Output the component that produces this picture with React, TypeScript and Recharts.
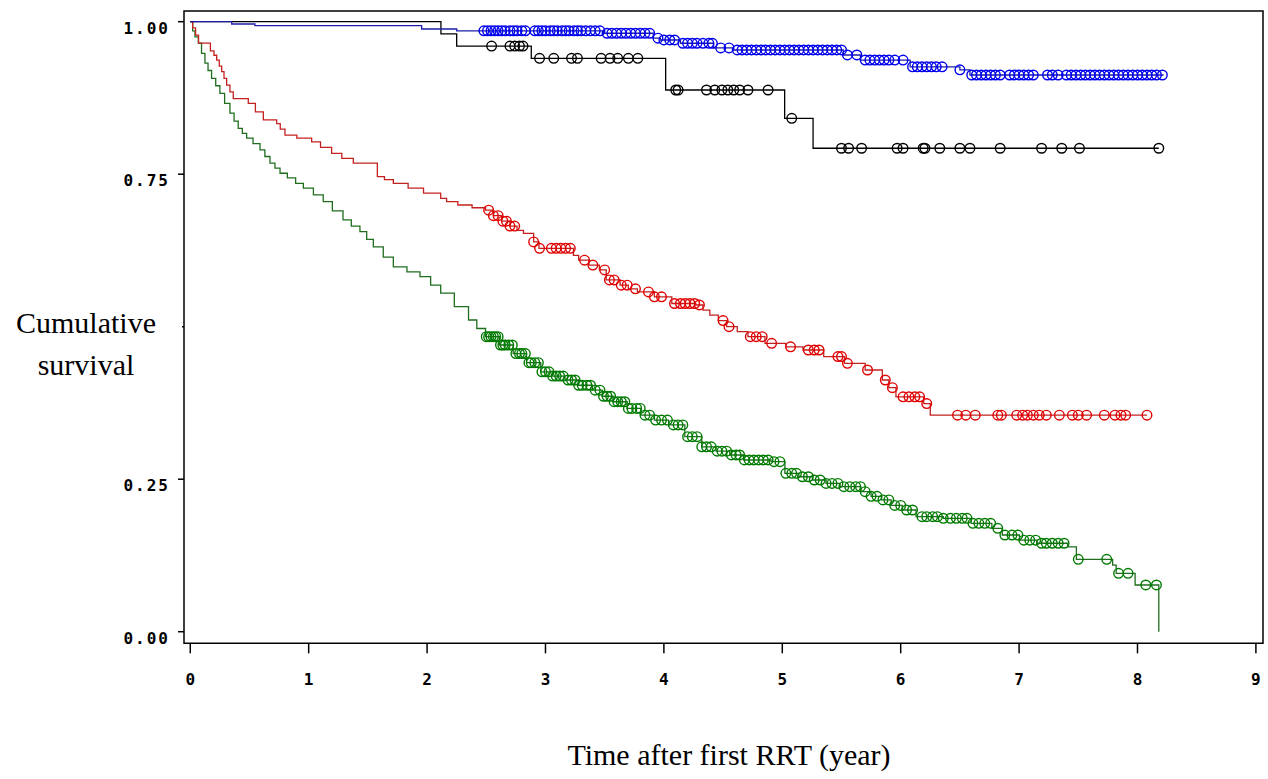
import React from "react";
import { ComposedChart, Line, Scatter, XAxis, YAxis, ReferenceArea } from "recharts";

const xTicks = [0, 1, 2, 3, 4, 5, 6, 7, 8, 9];
const yTicks = [0, 0.25, 0.5, 0.75, 1];
const yTickLabels = ["0.00", "0.25", "", "0.75", "1.00"];

// Kaplan-Meier steps: [time (year), cumulative survival]
const blueSteps: [number, number][] = [
  [0, 1], [0.35, 0.9962], [0.546, 0.9934], [1.954, 0.988], [2.25, 0.985],
  [3.49, 0.981], [3.91, 0.973], [3.97, 0.97], [4.14, 0.9646], [4.42, 0.957],
  [4.58, 0.9536], [5.515, 0.9454], [5.66, 0.937], [6.08, 0.926], [6.5, 0.921],
  [6.585, 0.9126], [8.22, 0.9126],
];

const blackSteps: [number, number][] = [
  [0, 1], [2.117, 0.98], [2.25, 0.96], [2.88, 0.94], [4.015, 0.888],
  [5.02, 0.8416], [5.26, 0.7925], [8.18, 0.7925],
];

const redSteps: [number, number][] = [
  [0, 1], [0.02, 0.99], [0.045, 0.978], [0.07, 0.965], [0.17, 0.952], [0.2, 0.945],
  [0.223, 0.937], [0.245, 0.927], [0.265, 0.918], [0.285, 0.907], [0.307, 0.896],
  [0.335, 0.885], [0.363, 0.874], [0.49, 0.866], [0.55, 0.852], [0.617, 0.839],
  [0.73, 0.833], [0.76, 0.824], [0.8, 0.814], [0.9, 0.809], [1.025, 0.803],
  [1.1, 0.794], [1.194, 0.784], [1.28, 0.776], [1.377, 0.768], [1.58, 0.746],
  [1.64, 0.741], [1.715, 0.735], [1.84, 0.727], [1.97, 0.719], [2.115, 0.7105],
  [2.165, 0.705], [2.26, 0.6995], [2.38, 0.695], [2.494, 0.691], [2.56, 0.682],
  [2.63, 0.673], [2.7, 0.665], [2.76, 0.658], [2.814, 0.653], [2.9, 0.639],
  [2.945, 0.6285], [3.236, 0.617], [3.28, 0.609], [3.367, 0.601], [3.455, 0.593],
  [3.513, 0.5766], [3.63, 0.568], [3.7, 0.562], [3.776, 0.557], [3.92, 0.549],
  [4.067, 0.538], [4.27, 0.5356], [4.33, 0.527], [4.388, 0.519], [4.46, 0.51],
  [4.53, 0.5], [4.62, 0.492], [4.71, 0.4836], [4.854, 0.4728], [5.03, 0.467],
  [5.175, 0.4618], [5.35, 0.451], [5.525, 0.44], [5.7, 0.429], [5.845, 0.4126],
  [5.9, 0.4], [5.96, 0.385], [6.195, 0.374], [6.25, 0.355], [8.08, 0.355],
];

const greenSteps: [number, number][] = [
  [0, 1], [0.02, 0.985], [0.04, 0.975], [0.068, 0.965], [0.095, 0.948], [0.124, 0.932],
  [0.15, 0.92], [0.18, 0.907], [0.215, 0.895], [0.25, 0.8826], [0.29, 0.866],
  [0.335, 0.85], [0.37, 0.837], [0.405, 0.825], [0.44, 0.817], [0.476, 0.809],
  [0.53, 0.8], [0.589, 0.79], [0.63, 0.779], [0.673, 0.768], [0.715, 0.76],
  [0.758, 0.7515], [0.82, 0.744], [0.89, 0.735], [0.955, 0.727], [1.04, 0.716],
  [1.123, 0.705], [1.2, 0.69], [1.29, 0.675], [1.36, 0.665], [1.433, 0.656],
  [1.49, 0.643], [1.546, 0.631], [1.63, 0.614], [1.715, 0.598], [1.83, 0.59],
  [1.94, 0.582], [2.03, 0.568], [2.115, 0.555], [2.23, 0.533], [2.35, 0.511],
  [2.42, 0.497], [2.494, 0.4836], [2.61, 0.47], [2.727, 0.456], [2.84, 0.441],
  [2.96, 0.426], [3.06, 0.419], [3.165, 0.4126], [3.28, 0.404], [3.397, 0.396],
  [3.48, 0.386], [3.57, 0.377], [3.69, 0.366], [3.805, 0.355], [3.92, 0.347],
  [4.04, 0.339], [4.177, 0.3197], [4.32, 0.303], [4.44, 0.296], [4.556, 0.2897],
  [4.672, 0.2815], [4.905, 0.2787], [5.022, 0.2597], [5.14, 0.254], [5.255, 0.2487],
  [5.37, 0.243], [5.488, 0.2377], [5.663, 0.2295], [5.75, 0.222], [5.838, 0.216],
  [5.92, 0.207], [6.013, 0.1995], [6.13, 0.1885], [6.36, 0.1859], [6.595, 0.1777],
  [6.77, 0.1695], [6.858, 0.1585], [7.003, 0.15], [7.15, 0.145], [7.41, 0.139],
  [7.484, 0.1187], [7.79, 0.109], [7.82, 0.0957], [7.98, 0.0766], [8.18, 0],
];

// censored observation times
const blueCensor = [
  2.48, 2.51, 2.54, 2.57, 2.6, 2.63, 2.66, 2.7, 2.73, 2.76, 2.8, 2.83, 2.91, 2.94,
  2.97, 3.0, 3.04, 3.07, 3.1, 3.14, 3.17, 3.2, 3.24, 3.27, 3.3, 3.34, 3.38, 3.42,
  3.46, 3.52, 3.56, 3.6, 3.64, 3.68, 3.72, 3.76, 3.8, 3.84, 3.88, 3.95, 4.0, 4.05,
  4.09, 4.16, 4.2, 4.24, 4.28, 4.33, 4.38, 4.41, 4.48, 4.55, 4.62, 4.66, 4.7, 4.74,
  4.78, 4.82, 4.86, 4.9, 4.94, 4.98, 5.02, 5.06, 5.1, 5.14, 5.18, 5.22, 5.26, 5.3,
  5.34, 5.38, 5.42, 5.46, 5.5, 5.55, 5.63, 5.7, 5.74, 5.78, 5.82, 5.86, 5.9, 5.95,
  6.02, 6.1, 6.14, 6.18, 6.22, 6.26, 6.3, 6.35, 6.5, 6.6, 6.64, 6.68, 6.72, 6.76,
  6.8, 6.84, 6.92, 6.96, 7.0, 7.04, 7.08, 7.12, 7.24, 7.28, 7.33, 7.4, 7.44, 7.48,
  7.52, 7.56, 7.6, 7.64, 7.68, 7.72, 7.76, 7.8, 7.84, 7.88, 7.92, 7.96, 8.0, 8.04,
  8.08, 8.12, 8.16, 8.21,
];

const blackCensor = [
  2.545, 2.7, 2.74, 2.78, 2.81, 2.95, 3.07, 3.22, 3.27, 3.47, 3.545, 3.61, 3.7, 3.78,
  4.1, 4.12, 4.36, 4.43, 4.49, 4.54, 4.59, 4.64, 4.71, 4.88, 5.08, 5.5, 5.56, 5.67,
  5.97, 6.02, 6.19, 6.205, 6.33, 6.5, 6.585, 6.84, 7.19, 7.36, 7.51, 8.18,
];

const redCensor = [
  2.52, 2.56, 2.6, 2.64, 2.67, 2.7, 2.74, 2.9, 2.95, 3.05, 3.09, 3.13, 3.17, 3.21,
  3.33, 3.4, 3.5, 3.54, 3.58, 3.64, 3.69, 3.76, 3.87, 3.92, 3.98, 4.09, 4.14, 4.18,
  4.22, 4.26, 4.3, 4.5, 4.55, 4.73, 4.78, 4.83, 4.91, 5.07, 5.22, 5.27, 5.31, 5.47,
  5.5, 5.55, 5.72, 5.87, 5.93, 6.02, 6.07, 6.12, 6.16, 6.22, 6.48, 6.55, 6.63, 6.82,
  6.85, 6.98, 7.03, 7.07, 7.12, 7.17, 7.23, 7.34, 7.45, 7.5, 7.57, 7.72, 7.81, 7.86,
  7.9, 8.08,
];

const greenCensor = [
  2.5, 2.52, 2.54, 2.56, 2.58, 2.6, 2.62, 2.64, 2.66, 2.69, 2.72, 2.75, 2.78, 2.8,
  2.83, 2.86, 2.88, 2.91, 2.94, 2.97, 3.0, 3.03, 3.06, 3.09, 3.12, 3.15, 3.19, 3.22,
  3.25, 3.28, 3.31, 3.35, 3.38, 3.42, 3.46, 3.49, 3.52, 3.55, 3.58, 3.61, 3.64, 3.67,
  3.7, 3.73, 3.77, 3.8, 3.84, 3.88, 3.93, 3.98, 4.03, 4.08, 4.12, 4.16, 4.2, 4.24,
  4.28, 4.32, 4.36, 4.4, 4.45, 4.49, 4.53, 4.57, 4.61, 4.64, 4.68, 4.72, 4.76, 4.8,
  4.84, 4.88, 4.93, 4.98, 5.03, 5.08, 5.12, 5.17, 5.22, 5.27, 5.32, 5.37, 5.42, 5.47,
  5.52, 5.57, 5.62, 5.66, 5.7, 5.75, 5.8, 5.85, 5.9, 5.95, 6.0, 6.05, 6.1, 6.18,
  6.22, 6.27, 6.31, 6.36, 6.42, 6.47, 6.52, 6.56, 6.61, 6.66, 6.71, 6.76, 6.82, 6.88,
  6.94, 6.99, 7.04, 7.09, 7.14, 7.19, 7.23, 7.28, 7.33, 7.38, 7.5, 7.74, 7.84, 7.92,
  8.07, 8.16,
];

const toRows = (steps: [number, number][]) => steps.map(([t, s]) => ({ t, s }));

// survival of the step curve at time t (censor marks sit on the curve)
const survAt = (steps: [number, number][], t: number) => {
  let s = steps[0][1];
  for (const [st, sv] of steps) {
    if (st <= t) s = sv;
  }
  return s;
};
const censorRows = (steps: [number, number][], times: number[]) =>
  times.map((t) => ({ t, s: survAt(steps, t) }));

const tickFont = {
  fontFamily: "'DejaVu Sans Mono', monospace",
  fontWeight: "bold" as const,
  fontSize: 16,
  letterSpacing: 2,
  fill: "#000",
};

function YTick(props: any) {
  const { x, y, payload } = props;
  const label = yTickLabels[yTicks.indexOf(payload.value)];
  const axisX = x + 16;
  return (
    <g>
      <line x1={axisX - (label ? 6 : 2)} x2={axisX} y1={y} y2={y} stroke="#000" strokeWidth={1.5} />
      {label ? (
        <text x={x + 2} y={y + 12} textAnchor="end" {...tickFont}>
          {label}
        </text>
      ) : null}
    </g>
  );
}

function XTick(props: any) {
  const { x, y, payload } = props;
  const axisY = y - 30;
  return (
    <g>
      <line x1={x} x2={x} y1={axisY} y2={axisY + 10} stroke="#000" strokeWidth={1.5} />
      <text x={x + 1} y={y + 12} textAnchor="middle" {...tickFont}>
        {payload.value}
      </text>
    </g>
  );
}

const censorShape = (color: string) => (props: any) => (
  <circle cx={props.cx} cy={props.cy} r={4.8} fill="none" stroke={color} strokeWidth={1.4} />
);

const serif = { fontFamily: "'Liberation Serif', 'Times New Roman', serif", fontSize: 30, lineHeight: "42px", color: "#000" };

export default function App() {
  return (
    <div style={{ position: "absolute", left: 0, top: 0, width: 1268, height: 779, background: "#fff" }}>
      <ComposedChart width={1268} height={779} margin={{ top: 11, right: 5, bottom: 95.7, left: 124 }}>
        <XAxis
          type="number"
          dataKey="t"
          domain={[-0.053, 9.06]}
          ticks={xTicks}
          allowDataOverflow
          axisLine={false}
          tickLine={false}
          tickSize={10}
          tickMargin={20}
          height={40}
          tick={<XTick />}
        />
        <YAxis
          type="number"
          dataKey="s"
          domain={[-0.019, 1.0175]}
          ticks={yTicks}
          allowDataOverflow
          axisLine={false}
          tickLine={false}
          tickSize={6}
          tickMargin={10}
          width={60}
          tick={<YTick />}
        />
        <ReferenceArea x1={-0.053} x2={9.06} y1={-0.019} y2={1.0175} fill="none" stroke="#000" strokeWidth={1.5} />
        <Line data={toRows(greenSteps)} dataKey="s" type="stepAfter" stroke="#1e6e1e" strokeWidth={1.3} dot={false} isAnimationActive={false} />
        <Line data={toRows(redSteps)} dataKey="s" type="stepAfter" stroke="#c42020" strokeWidth={1.3} dot={false} isAnimationActive={false} />
        <Line data={toRows(blackSteps)} dataKey="s" type="stepAfter" stroke="#000" strokeWidth={1.3} dot={false} isAnimationActive={false} />
        <Line data={toRows(blueSteps)} dataKey="s" type="stepAfter" stroke="#1c1ca8" strokeWidth={1.3} dot={false} isAnimationActive={false} />
        <Scatter data={censorRows(greenSteps, greenCensor)} dataKey="s" shape={censorShape("#007a00")} isAnimationActive={false} />
        <Scatter data={censorRows(redSteps, redCensor)} dataKey="s" shape={censorShape("#e00000")} isAnimationActive={false} />
        <Scatter data={censorRows(blackSteps, blackCensor)} dataKey="s" shape={censorShape("#000")} isAnimationActive={false} />
        <Scatter data={censorRows(blueSteps, blueCensor)} dataKey="s" shape={censorShape("#0000ee")} isAnimationActive={false} />
      </ComposedChart>
      <div style={{ ...serif, position: "absolute", left: 0, top: 302, width: 172, textAlign: "center" }}>
        Cumulative
        <br />
        survival
      </div>
      <div style={{ ...serif, position: "absolute", left: 429, top: 734, width: 600, textAlign: "center" }}>
        Time after first RRT (year)
      </div>
    </div>
  );
}
